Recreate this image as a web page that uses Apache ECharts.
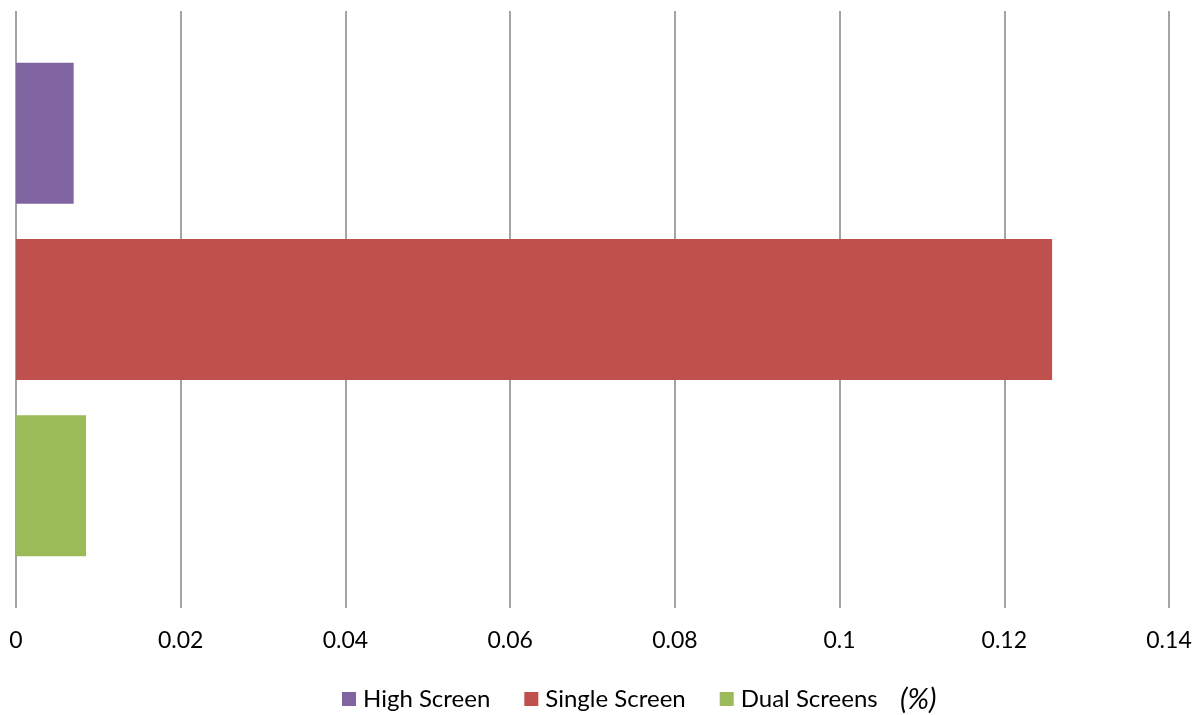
<!DOCTYPE html>
<html><head><meta charset="utf-8">
<script src="https://cdn.jsdelivr.net/npm/echarts@6/dist/echarts.min.js"></script>
<style>html,body{margin:0;padding:0;background:#fff}#c{width:1200px;height:715px}</style>
</head><body><div id="c"></div>
<script>
const categories = ['Screens'];
const seriesNames = ['High Screen', 'Single Screen', 'Dual Screens'];
const highScreen = [0.007];
const singleScreen = [0.1258];
const dualScreens = [0.0085];
const xTicks = { min: 0, max: 0.14, interval: 0.02 };
const unitLabel = '(%)';

const colors = ['#8064A2', '#C0504D', '#9BBB59'];
const font = 'Lato, "Open Sans", sans-serif';
const values = [highScreen, singleScreen, dualScreens];

const chart = echarts.init(document.getElementById('c'));
chart.setOption({
  animation: false,
  grid: { left: 16, right: 31, top: 11, bottom: 107, containLabel: false },
  xAxis: {
    type: 'value', min: xTicks.min, max: xTicks.max, interval: xTicks.interval,
    axisLine: { show: false }, axisTick: { show: false },
    splitLine: { show: true, lineStyle: { color: '#868686', width: 1.5 } },
    axisLabel: { fontSize: 23, color: '#000', fontFamily: font, margin: 21 }
  },
  yAxis: {
    type: 'category', data: categories, inverse: true,
    axisLine: { show: false }, axisTick: { show: false }, axisLabel: { show: false }
  },
  legend: {
    top: 682, left: 337, itemWidth: 14, itemHeight: 14, itemGap: 34,
    icon: 'rect',
    textStyle: { fontSize: 24, color: '#000', fontFamily: font, padding: [0, 0, 0, 2] },
    data: seriesNames
  },
  graphic: [{
    type: 'text', left: 900, top: 685,
    style: { text: unitLabel, fontSize: 29, fontStyle: 'italic', fontFamily: font, fill: '#000' }
  }],
  series: seriesNames.map((n, i) => ({
    name: n, type: 'bar', data: values[i], barWidth: 141, barGap: '25%',
    itemStyle: { color: colors[i] }
  }))
});
</script></body></html>
